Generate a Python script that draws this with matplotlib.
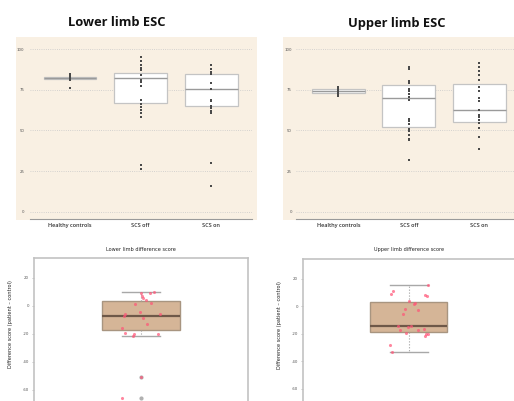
import matplotlib.pyplot as plt
from matplotlib.patches import Rectangle

# --- top panels: ESC scores per group ---
groups = ['Healthy controls', 'SCS off', 'SCS on']

lower_q1 = [81.5, 67.1, 64.9]
lower_med = [82.5, 82.1, 75.4]
lower_q3 = [83.0, 85.2, 84.6]
lower_healthy = [84.5, 84, 83, 82.5, 82, 81.5, 81, 76]
lower_off = [95, 92.5, 90, 88.5, 87, 84, 81, 79.5, 77.5, 68.5, 66.5, 64.5, 62.5, 60.5, 58.5, 29, 26]
lower_on = [90, 88, 86, 85, 79, 75.5, 69, 68, 65, 63.5, 62, 60.5, 30, 15.5]

upper_q1 = [73.3, 52.4, 55.0]
upper_med = [74.3, 70.2, 62.4]
upper_q3 = [75.4, 78.0, 78.4]
upper_healthy = [77, 76, 75, 74.5, 74, 73, 72, 71]
upper_off = [89, 87.5, 80.5, 79, 75.5, 74, 72.5, 70.5, 68.5, 57, 55.5, 54, 51, 49.5, 47, 45, 44, 31.5]
upper_on = [91.5, 89, 86.5, 84, 81, 77, 74.5, 70, 68, 62.5, 59.5, 58, 56.5, 54.5, 51.5, 46, 38.5]

esc_ticks = [0, 25, 50, 75, 100]

# --- bottom panels: difference scores (patient - control) ---
lower_diff = [8.9, 8.9, 9.6, 6.9, 5.5, 4.1, 1.4, 1.7, -4.3, -6.2, -7.4, -6.2, -8.6,
              -13.1, -15.5, -19.3, -20, -20.5, -21.9, -50.9, -66.2]
lower_jitter = [0, 0.044, 0.061, 0.005, 0.009, 0.022, -0.028, 0.048, -0.006, -0.076, -0.079,
                0.090, 0.011, 0.026, -0.089, -0.076, -0.031, 0.078, -0.039, 0.002, -0.089]
lower_stats = dict(whislo=-21.9, q1=-17.1, med=-7.4, q3=3.1, whishi=9.6, fliers=[-50.9, -66.2])

upper_diff = [15.3, 10.9, 8.9, 8.4, 7.7, 3.4, 2.4, 1.2, -2, -2.7, -5.4, -14.1, -14.3, -15.1,
              -17.5, -17.7, -16.5, -19.4, -20.1, -20.6, -21.6, -28.1, -33.5]
upper_jitter = [0.090, -0.074, -0.082, 0.075, 0.088, 0, 0.028, 0.024, -0.017, 0.046, -0.027,
                -0.050, 0.009, -0.002, -0.042, 0.044, 0.072, -0.013, 0.083, 0.090, 0.077,
                -0.086, -0.080]
upper_stats = dict(whislo=-33.5, q1=-18.7, med=-14.1, q3=2.9, whishi=15.3, fliers=[])

diff_ticks = [20, 0, -20, -40, -60]

W, H = 514, 401
beige = '#f9f0e3'
fig = plt.figure(figsize=(W / 100, H / 100), dpi=100)


def px(x0, y0, x1, y1):
    # pixel box (top-left origin) -> figure fraction rect
    return [x0 / W, 1 - y1 / H, (x1 - x0) / W, (y1 - y0) / H]


def esc_panel(rect, bg, q1, med, q3, points, xlim, title, title_x, pad):
    fig.patches.append(Rectangle((bg[0], bg[1]), bg[2], bg[3], transform=fig.transFigure,
                                 facecolor=beige, edgecolor='none', zorder=-5))
    ax = fig.add_axes(rect)
    ax.set_facecolor('none')
    stats = [dict(med=m, q1=a, q3=b, whislo=a, whishi=b, fliers=[]) for a, m, b in zip(q1, med, q3)]
    ax.bxp(stats, positions=range(3), widths=0.75, patch_artist=True, showcaps=False,
           boxprops=dict(facecolor='white', edgecolor='#c4c4c4', linewidth=0.9),
           medianprops=dict(color='#9a9a9a', linewidth=1.0),
           whiskerprops=dict(linewidth=0))
    for i, pts in enumerate(points):
        ax.scatter([i] * len(pts), pts, s=0.8, color='#4a4a4a', marker='s', linewidths=0, zorder=3)
    ax.set_ylim(-4.5, 107.5)
    ax.set_xlim(*xlim)
    ax.set_yticks(esc_ticks)
    ax.set_yticklabels([str(t) for t in esc_ticks], fontsize=2.8, color='#555555')
    ax.set_xticks(range(3))
    ax.set_xticklabels(groups, fontsize=4, color='#333333', fontfamily='Open Sans', fontweight='semibold')
    ax.tick_params(axis='both', length=0, pad=pad)
    ax.tick_params(axis='x', pad=3)
    ax.grid(axis='y', linestyle=':', color='#c8c8c8', linewidth=0.6)
    ax.set_axisbelow(True)
    for s in ['left', 'right', 'top']:
        ax.spines[s].set_visible(False)
    ax.spines['bottom'].set_color('#9a9a9a')
    ax.spines['bottom'].set_linewidth(0.8)
    fig.text(title_x / W, 1 - 23 / H, title, ha='center', va='center', fontsize=9.3,
             fontweight='bold', fontfamily='Open Sans', color='#111111')


def diff_panel(rect, stats, vals, jitter, title, title_x, label_y):
    ax = fig.add_axes(rect)
    ax.bxp([stats], positions=[1], widths=0.365, patch_artist=True, capwidths=0.18,
           boxprops=dict(facecolor='#d5b597', edgecolor='#a89580', linewidth=1.0),
           medianprops=dict(color='#6e5848', linewidth=1.6),
           whiskerprops=dict(color='#a0a0a0', linewidth=0.8, linestyle=':'),
           capprops=dict(color='#a8a8a8', linewidth=1.0),
           flierprops=dict(marker='o', markersize=2, markerfacecolor='#b0b0b0',
                           markeredgecolor='#b0b0b0'))
    ax.scatter([1 + j for j in jitter], vals, s=5, color='#ff5577', alpha=0.7,
               linewidths=0, zorder=4)
    ax.set_xlim(0.5, 1.5)
    ax.set_ylim(-80, 34.2)
    ax.set_xticks([])
    ax.set_yticks(diff_ticks)
    ax.set_yticklabels([str(t) for t in diff_ticks], fontsize=2.8, color='#555555')
    ax.tick_params(axis='y', length=1.5, width=0.4, color='#999999', pad=2)
    for s in ax.spines.values():
        s.set_color('#c2c2c2')
        s.set_linewidth(1.2)
    ax.set_ylabel('Difference score (patient \u2013 control)', fontsize=3.6, color='#222222')
    ax.yaxis.set_label_coords(-0.1, label_y)
    fig.text(title_x / W, 1 - 249.5 / H, title, ha='center', va='center', fontsize=3.6,
             color='#222222')


esc_panel(px(30, 37, 252, 219), px(16, 37, 257, 220), lower_q1, lower_med, lower_q3,
          [lower_healthy, lower_off, lower_on], (-0.567, 2.58), 'Lower limb ESC', 117, 4)
esc_panel(px(296, 37, 520, 219), px(283, 37, 514, 220), upper_q1, upper_med, upper_q3,
          [upper_healthy, upper_off, upper_on], (-0.6, 2.58), 'Upper limb ESC', 397, 3)

diff_panel(px(34, 258, 248, 417.7), lower_stats, lower_diff, lower_jitter,
           'Lower limb difference score', 141, 0.587)
diff_panel(px(302.7, 259, 514.7, 416.3), upper_stats, upper_diff, upper_jitter,
           'Upper limb difference score', 409, 0.58)

fig.savefig('out.png', dpi=100)
